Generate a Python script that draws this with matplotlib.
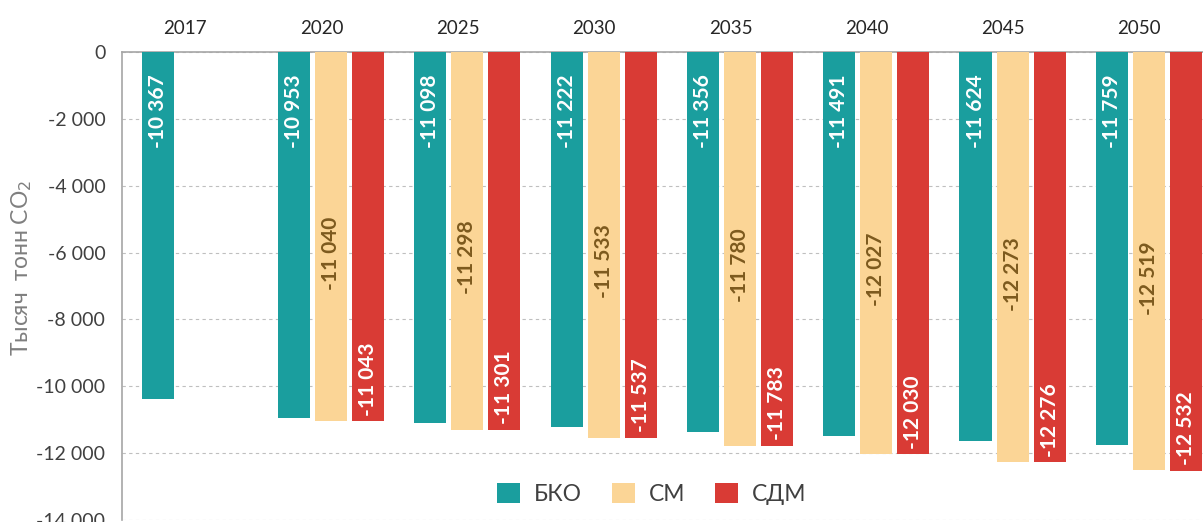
import numpy as np
import matplotlib.pyplot as plt
from matplotlib.ticker import FuncFormatter

plt.rcParams['font.family'] = ['Lato', 'Open Sans', 'DejaVu Sans']

years = ['2017', '2020', '2025', '2030', '2035', '2040', '2045', '2050']
bko = [-10367, -10953, -11098, -11222, -11356, -11491, -11624, -11759]
sm = [np.nan, -11040, -11298, -11533, -11780, -12027, -12273, -12519]
sdm = [np.nan, -11043, -11301, -11537, -11783, -12030, -12276, -12532]

c_bko = '#1a9e9e'
c_sm = '#fbd596'
c_sdm = '#d93b35'


def fmt(v):
    return f"{int(round(v)):,}".replace(",", " ")


fig = plt.figure(figsize=(12.03, 5.22), dpi=100)
ax = fig.add_axes([122 / 1203, 2 / 522, 1 - 122 / 1203, 468 / 522])

x = np.arange(len(years))
w = 0.235
off = 0.272

ax.bar(x - off, bko, w, color=c_bko, label='БКО', zorder=3)
ax.bar(x, sm, w, color=c_sm, label='СМ', zorder=3)
ax.bar(x + off, sdm, w, color=c_sdm, label='СДМ', zorder=3)

# подписи: БКО у основания, СМ по центру, СДМ у конца столбца
for xi, v in zip(x - off, bko):
    ax.annotate(fmt(v), (xi, 0), xytext=(0, -16), textcoords='offset points',
                rotation=90, ha='center', va='top', color='white',
                fontsize=15, fontweight='bold', zorder=4)
for xi, v in zip(x, sm):
    if np.isnan(v):
        continue
    ax.annotate(fmt(v), (xi, v / 2), xytext=(0, -12), textcoords='offset points',
                rotation=90, ha='center', va='center', color='#7d5a1e',
                fontsize=15, fontweight='bold', zorder=4)
for xi, v in zip(x + off, sdm):
    if np.isnan(v):
        continue
    ax.annotate(fmt(v), (xi, v), xytext=(0, 4), textcoords='offset points',
                rotation=90, ha='center', va='bottom', color='white',
                fontsize=15, fontweight='bold', zorder=4)

ax.set_ylim(-14000, 0)
ax.set_xlim(-0.534, 7.397)
ax.set_yticks(np.arange(-14000, 1, 2000))
ax.yaxis.set_major_formatter(FuncFormatter(lambda v, p: fmt(v)))
ax.tick_params(axis='y', length=0, labelsize=14, labelcolor='#404040', pad=12)

ax.xaxis.tick_top()
ax.set_xticks(x - 0.07)
ax.set_xticklabels(years)
ax.tick_params(axis='x', length=0, labelsize=13.5, labelcolor='#262626', pad=11)

ax.grid(axis='y', linestyle=(0, (3, 3)), color='#bfbfbf', linewidth=0.8, zorder=0)
for s in ['right', 'bottom']:
    ax.spines[s].set_visible(False)
for s in ['top', 'left']:
    ax.spines[s].set_color('#a6a6a6')
    ax.spines[s].set_linewidth(1.2)

ax.set_ylabel('Тысяч  тонн CO$_2$', fontsize=16.5, color='#7f7f7f')
ax.yaxis.label.set_va('center')
ax.yaxis.set_label_coords(-0.0925, 0.538)

ax.legend(loc='center', bbox_to_anchor=(0.49, 0.056), ncol=3, frameon=False,
          fontsize=16.5, handlelength=1.0, handleheight=1.0, columnspacing=1.3,
          handletextpad=0.6, labelcolor='#404040')

fig.savefig('out.png', dpi=100)
